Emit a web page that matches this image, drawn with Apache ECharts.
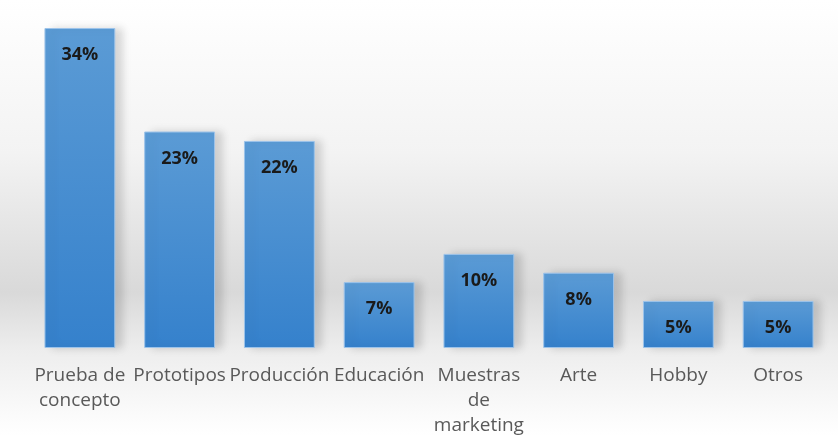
<!DOCTYPE html>
<html><head><meta charset="utf-8">
<script src="https://cdn.jsdelivr.net/npm/echarts@6/dist/echarts.min.js"></script>
<style>html,body{margin:0;padding:0;background:#fff}#c{width:838px;height:436px}</style>
</head><body><div id="c"></div>
<script>
const categories = ['Prueba de\nconcepto', 'Prototipos', 'Producción', 'Educación', 'Muestras\nde\nmarketing', 'Arte', 'Hobby', 'Otros'];
const values = [34, 23, 22, 7, 10, 8, 5, 5];

const chart = echarts.init(document.getElementById('c'));
chart.setOption({
  animation: false,
  backgroundColor: new echarts.graphic.LinearGradient(0, 0, 0, 1, [
    {offset: 0, color: '#ffffff'},
    {offset: 0.35, color: '#f3f3f3'},
    {offset: 0.67, color: '#d9d9d9'},
    {offset: 0.8, color: '#ededed'},
    {offset: 1, color: '#ffffff'}
  ]),
  grid: {left: 30, right: 10, top: 28, bottom: 88, containLabel: false, outerBoundsMode: 'none'},
  xAxis: {
    type: 'category',
    data: categories,
    axisLine: {show: false},
    axisTick: {show: false},
    axisLabel: {
      color: '#595959',
      fontSize: 19,
      fontFamily: 'Open Sans',
      lineHeight: 25,
      margin: 15,
      interval: 0
    }
  },
  yAxis: {
    type: 'value',
    min: 0,
    max: 34,
    show: false
  },
  series: [{
    type: 'bar',
    data: values,
    barCategoryGap: '29%',
    itemStyle: {
      color: new echarts.graphic.LinearGradient(0, 0, 0, 1, [
        {offset: 0, color: '#5b9bd5'},
        {offset: 1, color: '#3581cc'}
      ]),
      borderColor: '#9cc3ea',
      borderWidth: 1,
      shadowColor: 'rgba(0,0,0,0.15)',
      shadowBlur: 8,
      shadowOffsetX: 7,
      shadowOffsetY: 0
    },
    label: {
      show: true,
      position: 'insideTop',
      distance: 18,
      formatter: '{c}%',
      color: '#1a1a1a',
      fontWeight: 'bold',
      fontSize: 18,
      fontFamily: 'Open Sans'
    }
  }]
});
</script>
</body></html>
